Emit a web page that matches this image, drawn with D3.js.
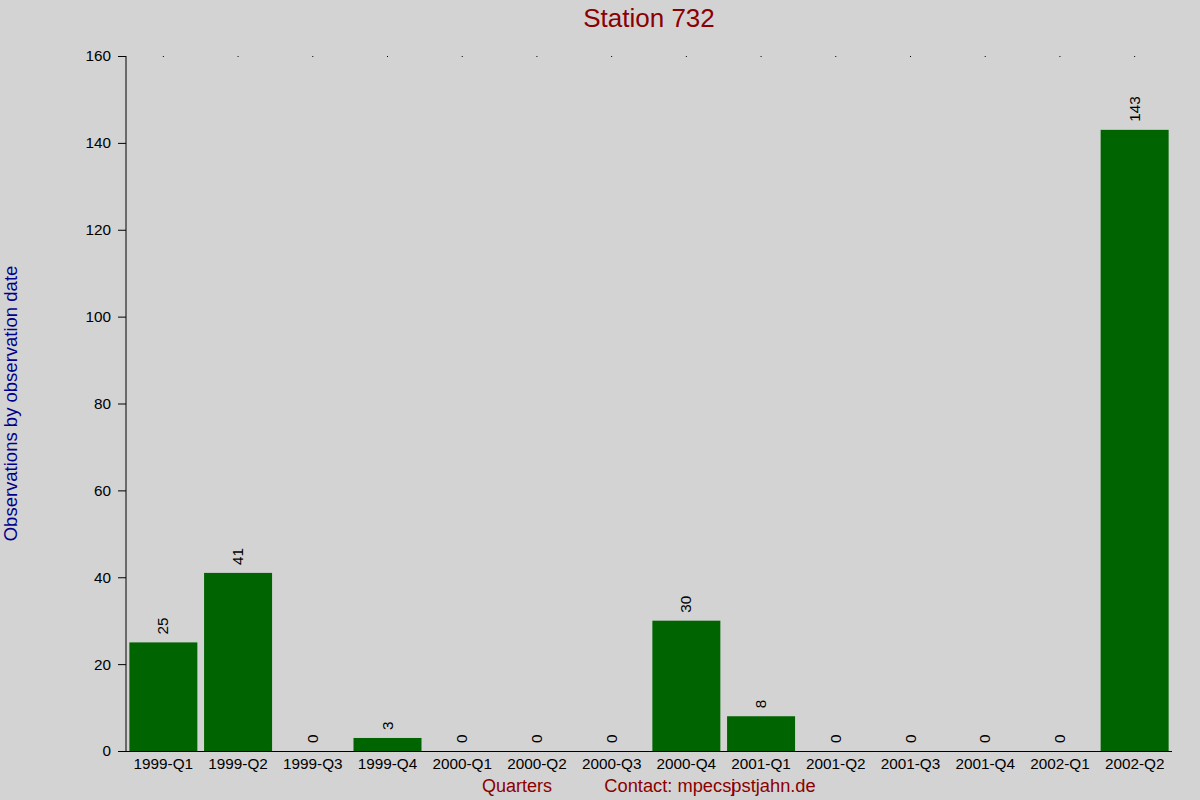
<!DOCTYPE html>
<html>
<head>
<meta charset="utf-8">
<script src="https://cdn.jsdelivr.net/npm/d3@7"></script>
<style>
  body { margin: 0; background: #d3d3d3; }
  svg { display: block; font-family: "Liberation Sans", Arial, sans-serif; }
</style>
</head>
<body>
<div id="chart"></div>
<script>
// quarters and counts
const quarters = ["1999-Q1", "1999-Q2", "1999-Q3", "1999-Q4", "2000-Q1", "2000-Q2", "2000-Q3",
    "2000-Q4", "2001-Q1", "2001-Q2", "2001-Q3", "2001-Q4", "2002-Q1", "2002-Q2"];
const counts = [25, 41, 0, 3, 0, 0, 0, 30, 8, 0, 0, 0, 0, 143];
const yTicks = [0, 20, 40, 60, 80, 100, 120, 140, 160];

const width = 1200, height = 800;
const margin = { top: 56, right: 28, bottom: 49, left: 126 };
const tickFont = "15.3px";

const data = quarters.map((q, i) => ({ q: q, n: counts[i] }));

const svg = d3.select("#chart")
    .append("svg")
    .attr("width", width)
    .attr("height", height);

svg.append("rect")
    .attr("width", width)
    .attr("height", height)
    .attr("fill", "#d3d3d3");

const x = d3.scaleBand()
    .domain(quarters)
    .range([margin.left, width - margin.right])
    .paddingInner(0.09)
    .paddingOuter(0.045);

const y = d3.scaleLinear()
    .domain([0, 160])
    .range([height - margin.bottom, margin.top]);

// bars
svg.append("g")
    .selectAll("rect")
    .data(data)
    .enter()
    .append("rect")
    .attr("x", d => x(d.q))
    .attr("y", d => y(d.n))
    .attr("width", x.bandwidth())
    .attr("height", d => y(0) - y(d.n))
    .attr("fill", "#006400");

// value labels, rotated
svg.append("g")
    .selectAll("text")
    .data(data)
    .enter()
    .append("text")
    .attr("transform", d => `translate(${x(d.q) + x.bandwidth() / 2 + 5},${y(d.n) - 8}) rotate(-90)`)
    .style("font-size", tickFont)
    .style("text-anchor", "start")
    .attr("fill", "#000")
    .text(d => d.n);

// y axis
const yAxis = svg.append("g")
    .attr("transform", `translate(${margin.left},0)`)
    .attr("font-size", tickFont)
    .call(d3.axisLeft(y).tickValues(yTicks).tickSize(8).tickPadding(7));
yAxis.select(".domain").attr("stroke", "#000").attr("d", `M0,${y(160)}V${y(0)}`);
yAxis.selectAll("text")
    .style("font-size", tickFont)
    .style("font-family", "Liberation Sans, Arial, sans-serif");

// x axis
const xAxis = svg.append("g")
    .attr("transform", `translate(0,${y(0)})`)
    .attr("font-size", tickFont)
    .call(d3.axisBottom(x).tickSize(0).tickPadding(7.5));
xAxis.select(".domain").attr("d", `M${margin.left - 8},0.5H${width - margin.right}`);
xAxis.selectAll("text")
    .style("font-size", tickFont)
    .style("font-family", "Liberation Sans, Arial, sans-serif");

// small dots along the top
svg.append("g")
    .selectAll("rect")
    .data(quarters)
    .enter()
    .append("rect")
    .attr("x", d => x(d) + x.bandwidth() / 2 - 0.5)
    .attr("y", y(160))
    .attr("width", 1)
    .attr("height", 1)
    .attr("fill", "#000");

// title
svg.append("text")
    .attr("x", 649)
    .attr("y", 27)
    .style("text-anchor", "middle")
    .style("font-size", "26px")
    .attr("fill", "#8b0000")
    .text("Station 732");

// y axis title
svg.append("text")
    .attr("transform", `translate(17,${(y(0) + y(160)) / 2}) rotate(-90)`)
    .style("text-anchor", "middle")
    .style("font-size", "18.5px")
    .attr("fill", "#00008b")
    .text("Observations by observation date");

// bottom texts
svg.append("text")
    .attr("x", 517)
    .attr("y", 792)
    .style("text-anchor", "middle")
    .style("font-size", "18px")
    .attr("fill", "#8b0000")
    .text("Quarters");

const contact = svg.append("text")
    .attr("x", 710)
    .attr("y", 792)
    .style("text-anchor", "middle")
    .style("font-size", "18.3px")
    .attr("fill", "#8b0000");
contact.append("tspan").text("Contact: mpecs");
contact.append("tspan").text("j");
contact.append("tspan").attr("dx", -4).text("pstjahn.de");
</script>
</body>
</html>
